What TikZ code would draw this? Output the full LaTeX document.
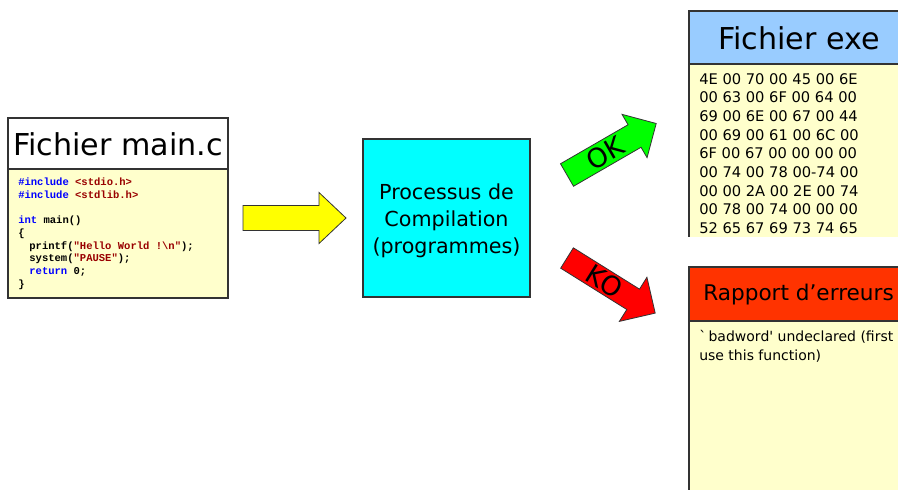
\documentclass[tikz,border=0pt]{standalone}
\usepackage{fontspec}
\setmainfont{DejaVu Sans}
\newfontfamily\codefont{Liberation Mono}
\definecolor{notepad}{HTML}{FFFFCC}
\definecolor{titleblue}{HTML}{99CCFF}
\definecolor{reportred}{HTML}{FF3300}
\definecolor{proccyan}{HTML}{00FFFF}
\definecolor{arrowyellow}{HTML}{FFFF00}
\definecolor{okgreen}{HTML}{00FF00}
\definecolor{kored}{HTML}{FF0000}
\definecolor{kwblue}{HTML}{0000FF}
\definecolor{strred}{HTML}{990000}
\definecolor{edge}{HTML}{333333}
\newcommand{\kw}[1]{\textcolor{kwblue}{#1}}
\newcommand{\str}[1]{\textcolor{strred}{#1}}
\begin{document}
\begin{tikzpicture}[x=0.75pt,y=-0.75pt,
  boxline/.style={draw=edge,line width=0.8pt},
  bigtitle/.style={font=\fontsize{22.6}{26}\selectfont,inner sep=0pt},
  bodytext/.style={font=\fontsize{11}{14}\selectfont,align=left,inner sep=0pt,anchor=north west},
  arrowshape/.style={draw=edge,line width=0.6pt,line join=miter},
  arrowlabel/.style={inner sep=0pt,font=\fontsize{20}{24}\selectfont}]
\useasboundingbox (0,0) rectangle (898,489);
\clip (0,0) rectangle (898,489);

% source file box
\fill[notepad] (8,169) rectangle (228,298);
\fill[white] (8,118) rectangle (228,169);
\draw[boxline] (8,118) rectangle (228,298);
\draw[boxline] (8,169) -- (228,169);
\node[bigtitle] (srctitle) at (118,144) {Fichier main.c};
\node[anchor=north west,inner sep=0pt,align=left,
  font=\codefont\bfseries\fontsize{7.9}{9.5}\selectfont] (code) at (18,178)
  {\kw{\#include} \str{<stdio.h>}\\
   \kw{\#include} \str{<stdlib.h>}\\
   \mbox{}\\
   \kw{int} main()\\
   \{\\
   \hspace*{2ex}printf(\str{"Hello World !\textbackslash n"});\\
   \hspace*{2ex}system(\str{"PAUSE"});\\
   \hspace*{2ex}\kw{return} 0;\\
   \}};

% compilation process
\node[draw=edge,line width=0.8pt,fill=proccyan,minimum width=167*0.75pt,minimum height=158*0.75pt,
  inner sep=0pt] (proc) at (446.5,218) {};
\node[align=center,inner sep=0pt,font=\fontsize{15.5}{20.2}\selectfont] (proctext) at (446.5,221)
  {Processus de\\Compilation\\(programmes)};

% arrow from source to process
\coordinate (yt) at (243,218);
\begin{scope}[shift={(yt)}]
  \draw[arrowshape,fill=arrowyellow] (0,-12.5) -- (76,-12.5) -- (76,-25.5) -- (103,0)
    -- (76,25.5) -- (76,12.5) -- (0,12.5) -- cycle;
\end{scope}

% executable file box
\fill[notepad] (689,64) rectangle (910,237);
\fill[titleblue] (689,11) rectangle (910,64);
\draw[boxline] (910,11) -- (689,11) -- (689,237);
\draw[boxline] (689,64) -- (910,64);
\node[bigtitle] (exetitle) at (799,38) {Fichier exe};
\begin{scope}
  \clip (689,64) rectangle (910,237);
  \node[bodytext] (hex) at (699,73)
    {4E 00 70 00 45 00 6E\\
     00 63 00 6F 00 64 00\\
     69 00 6E 00 67 00 44\\
     00 69 00 61 00 6C 00\\
     6F 00 67 00 00 00 00\\
     00 74 00 78 00-74 00\\
     00 00 2A 00 2E 00 74\\
     00 78 00 74 00 00 00\\
     52 65 67 69 73 74 65};
\end{scope}

% error report box
\fill[notepad] (689,321) rectangle (910,495);
\fill[reportred] (689,267) rectangle (910,321);
\draw[boxline] (910,267) -- (689,267) -- (689,495);
\draw[boxline] (689,321) -- (910,321);
\node[anchor=west,inner sep=0pt,font=\fontsize{16.2}{20}\selectfont] (reptitle) at (703,295) {Rapport d’erreurs};
\node[bodytext,font=\fontsize{10.5}{14}\selectfont] (errtext) at (699,330)
  {\textasciigrave\,badword\textquotesingle{} undeclared (first\\use this function)};

% success arrow
\begin{scope}[shift={(567,175)},rotate=30]
  \draw[arrowshape,fill=okgreen] (0,-13) -- (78,-13) -- (78,-25) -- (103,0)
    -- (78,25) -- (78,13) -- (0,13) -- cycle;
  \node[arrowlabel,rotate=30] (ok) at (44,0) {OK};
\end{scope}

% failure arrow
\begin{scope}[shift={(567,258)},rotate=-32]
  \draw[arrowshape,fill=kored] (0,-12) -- (78,-12) -- (78,-26) -- (104,0)
    -- (78,26) -- (78,12) -- (0,12) -- cycle;
  \node[arrowlabel,rotate=-32] (ko) at (44,0) {KO};
\end{scope}
\end{tikzpicture}
\end{document}
